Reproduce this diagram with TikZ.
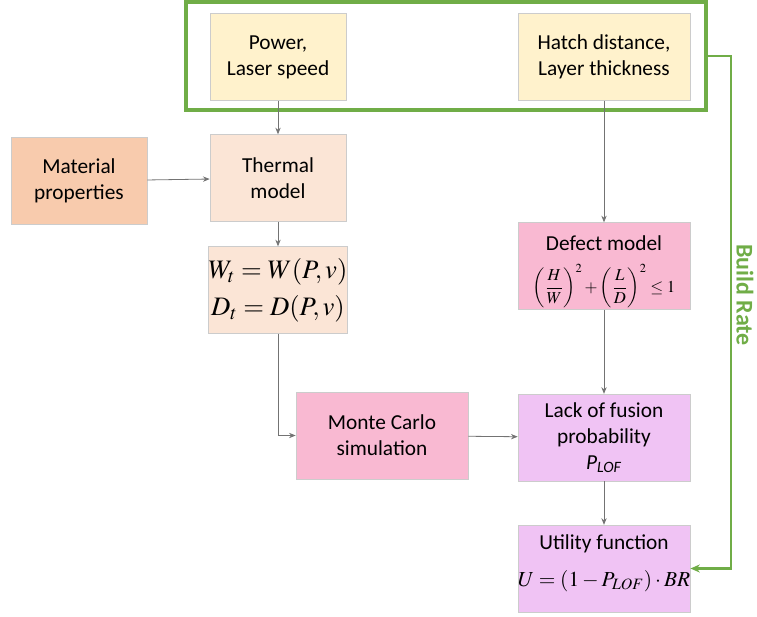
\documentclass[tikz,border=0pt]{standalone}
\usepackage{amsmath}
\usepackage{mathptmx}
\usepackage[no-math]{fontspec}
\setmainfont{Carlito}
\usetikzlibrary{arrows.meta}

\definecolor{inputfill}{HTML}{FFF2CC}
\definecolor{thermalfill}{HTML}{FBE5D6}
\definecolor{materialfill}{HTML}{F8CBAD}
\definecolor{defectfill}{HTML}{F9B9D2}
\definecolor{lofill}{HTML}{F0C3F4}
\definecolor{rategreen}{HTML}{70AD47}

\begin{document}
\begin{tikzpicture}[x=0.75pt, y=-0.75pt,
    >={Stealth[length=5pt,width=4pt]},
    block/.style={draw=black!20, line width=0.5pt, align=center, inner sep=0pt,
        minimum height=65pt, font=\fontsize{16}{19.5}\selectfont},
    narrow/.style={block, minimum width=102pt},
    wide/.style={block, minimum width=129pt},
    link/.style={->, draw=black!55, line width=0.6pt}]
    \useasboundingbox (0,0) rectangle (757,617);

    % process inputs
    \node[narrow, fill=inputfill] (power) at (278,57) {Power,\\Laser speed};
    \node[wide, fill=inputfill] (hatch) at (604,57) {Hatch distance,\\Layer thickness};
    \node[draw=rategreen, line width=3pt, minimum width=390pt, minimum height=81pt] (inputs) at (446,56) {};

    % thermal side
    \node[narrow, fill=materialfill] (material) at (79,181) {Material\\properties};
    \node[narrow, fill=thermalfill] (thermal) at (278,178) {Thermal\\model};
    \node[narrow, fill=thermalfill, font=\fontsize{20}{28}\selectfont] (melt) at (278,290)
        {$W_t = W(P,v)$\\$D_t = D(P,v)$};
    \node[wide, fill=defectfill] (mc) at (382,435.5) {Monte Carlo\\simulation};

    % defect side
    \node[wide, fill=defectfill] (defect) at (604,266)
        {\rule{0pt}{20pt}Defect model\\[6pt]{\fontsize{12.5}{14}\selectfont\rule{0pt}{24pt}$\left(\dfrac{H}{W}\right)^{2}+\left(\dfrac{L}{D}\right)^{2}\le 1$}};
    \node[wide, fill=lofill] (lof) at (604,437.5)
        {Lack of fusion\\probability\\\textit{P}\textsubscript{\textit{LOF}}};
    \node[wide, fill=lofill] (util) at (604,568.5)
        {Utility function\\[8pt]{\fontsize{16}{20}\selectfont$U=(1-P_{LOF})\cdot BR$}\\[-8pt]};

    % connectors
    \draw[link] (power) -- (thermal);
    \draw[link] (material) -- (thermal);
    \draw[link] (thermal) -- (melt);
    \draw[link] (melt) |- (mc);
    \draw[link] (hatch) -- (defect);
    \draw[link] (defect) -- (lof);
    \draw[link] (mc) -- (lof);
    \draw[link] (lof) -- (util);

    % build rate feedback
    \draw[draw=rategreen, line width=2pt, -{Stealth[length=7pt,width=6pt]}]
        (inputs.east) -- ++(23,0) coordinate (turn) |- (util.east);
    \node[text=rategreen, rotate=-90, font=\fontsize{18}{22}\selectfont\bfseries]
        (rate) at (745,295) {Build Rate};
\end{tikzpicture}
\end{document}
